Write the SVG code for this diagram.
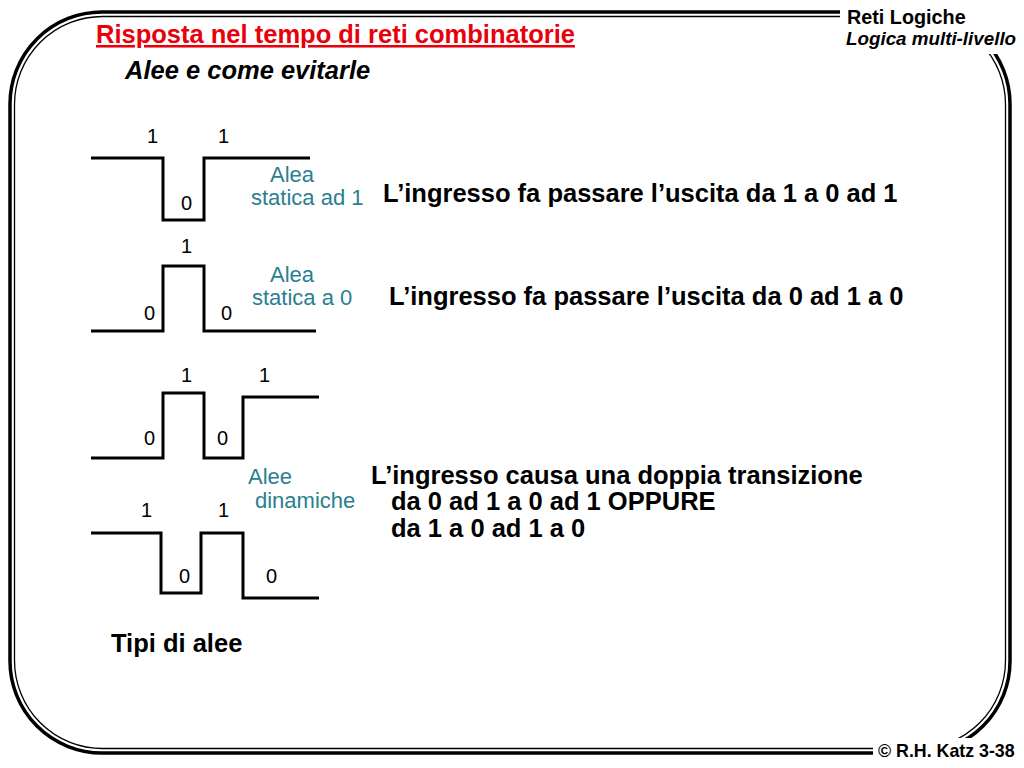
<svg xmlns="http://www.w3.org/2000/svg" width="1024" height="768" viewBox="0 0 1024 768">
<style>
.wave{fill:none;stroke:#000;stroke-width:3;stroke-linejoin:miter}
.lv{font-family:"Liberation Sans",Arial,sans-serif;font-size:20px;fill:#000}
.teal{font-family:"Liberation Sans",Arial,sans-serif;font-size:22px;fill:#2a8090}
.body{font-family:"Liberation Sans",Arial,sans-serif;font-size:25.5px;font-weight:bold;fill:#000}
.hdr{font-family:"Liberation Sans",Arial,sans-serif;font-weight:bold;fill:#000}
</style>
<rect width="1024" height="768" fill="#fff"/>
<g id="frame">
<rect x="10" y="12" width="1000" height="741" rx="92" ry="92" fill="none" stroke="#000" stroke-width="3.5"/>
<rect x="14.5" y="16.5" width="991" height="732" rx="88" ry="88" fill="none" stroke="#000" stroke-width="1.3"/>
<rect x="840" y="0" width="184" height="54" fill="#fff"/>
<rect x="873" y="738" width="151" height="30" fill="#fff"/>
</g>
<g id="header">
<text class="hdr" x="847" y="24" font-size="19.8">Reti Logiche</text>
<text class="hdr" x="846" y="45" font-size="18.8" font-style="italic">Logica multi-livello</text>
<text class="hdr" x="878" y="757" font-size="17.8">© R.H. Katz 3-38</text>
</g>
<g id="title">
<text x="96" y="43" font-family="'Liberation Sans',Arial,sans-serif" font-size="25.5" font-weight="bold" fill="#e8000b" text-decoration="underline">Risposta nel tempo di reti combinatorie</text>
<text x="125" y="79" font-family="'Liberation Sans',Arial,sans-serif" font-size="25.5" font-weight="bold" font-style="italic" fill="#000">Alee e come evitarle</text>
</g>
<g id="wave-static1">
<polyline class="wave" points="91,158 163,158 163,220 204,220 204,158 310,158"/>
<text class="lv" x="147" y="143">1</text>
<text class="lv" x="218" y="143">1</text>
<text class="lv" x="181" y="210">0</text>
<text class="teal" x="292" y="182" text-anchor="middle">Alea</text>
<text class="teal" x="251" y="205">statica ad 1</text>
</g>
<g id="wave-static0">
<polyline class="wave" points="91,331 163,331 163,266 204,266 204,331 316,331"/>
<text class="lv" x="181" y="253">1</text>
<text class="lv" x="144" y="320">0</text>
<text class="lv" x="221" y="320">0</text>
<text class="teal" x="292" y="282" text-anchor="middle">Alea</text>
<text class="teal" x="252" y="305">statica a 0</text>
</g>
<g id="wave-dyn1">
<polyline class="wave" points="91,458 163,458 163,393 204,393 204,458 243,458 243,397 319,397"/>
<text class="lv" x="181" y="382">1</text>
<text class="lv" x="259" y="382">1</text>
<text class="lv" x="144" y="445">0</text>
<text class="lv" x="217" y="445">0</text>
</g>
<g id="wave-dyn2">
<polyline class="wave" points="91,533 161,533 161,593 201,593 201,533 243,533 243,598 319,598"/>
<text class="lv" x="141" y="517">1</text>
<text class="lv" x="218" y="517">1</text>
<text class="lv" x="179" y="583">0</text>
<text class="lv" x="266" y="583">0</text>
</g>
<g id="label-dyn">
<text class="teal" x="248" y="484">Alee</text>
<text class="teal" x="255" y="508">dinamiche</text>
</g>
<g id="desc">
<text class="body" x="383" y="202">L’ingresso fa passare l’uscita da 1 a 0 ad 1</text>
<text class="body" x="389" y="305">L’ingresso fa passare l’uscita da 0 ad 1 a 0</text>
<text class="body" x="371" y="484">L’ingresso causa una doppia transizione</text>
<text class="body" x="391" y="510">da 0 ad 1 a 0 ad 1 OPPURE</text>
<text class="body" x="391" y="537">da 1 a 0 ad 1 a 0</text>
<text class="body" x="111" y="652">Tipi di alee</text>
</g>
<g id="connectors"/>
</svg>
